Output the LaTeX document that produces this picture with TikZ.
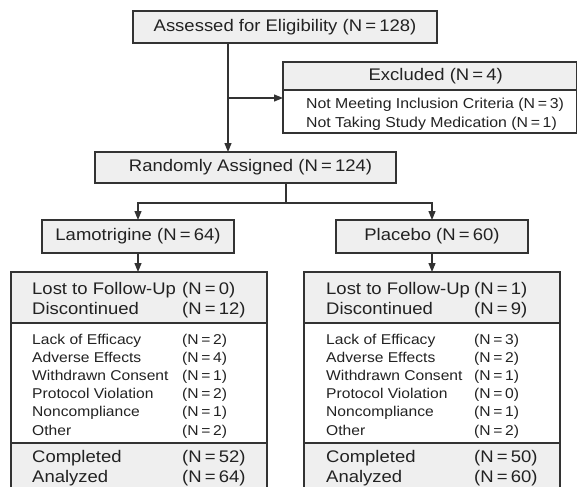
\documentclass[tikz,border=0pt]{standalone}
\usepackage{fontspec}
\setmainfont{Liberation Sans}[FakeStretch=1.1]
\usetikzlibrary{arrows.meta}
\definecolor{linec}{HTML}{333333}
\definecolor{boxfill}{HTML}{EFEFEF}
\definecolor{textc}{HTML}{222222}
\newcommand{\Nn}[1]{(N\hspace{0.19em}=\hspace{0.19em}#1)}
\newcommand{\bigf}{\fontsize{16.8}{20}\selectfont}
\newcommand{\smallf}{\fontsize{14.2}{18}\selectfont}
\newcommand{\exf}{\fontsize{14.4}{19}\selectfont}
\begin{document}
\begin{tikzpicture}[x=1pt,y=-1pt,
  box/.style={draw=linec, line width=1.2pt, fill=boxfill, inner sep=0pt, outer sep=0pt, text=textc, font=\bigf},
  whitebox/.style={box, fill=white},
  conn/.style={draw=linec, line width=1.2pt},
  arr/.style={conn, -{Triangle[length=9pt,width=7pt]}},
  lbl/.style={anchor=base west, inner sep=0pt, text=textc},
  biglbl/.style={lbl, font=\bigf},
  smlbl/.style={lbl, font=\smallf},
  exlbl/.style={lbl, font=\exf}]
\useasboundingbox (0,0) rectangle (578,487);
\clip (0,0) rectangle (578,487);

% top
\node[box, minimum width=304pt, minimum height=32pt] (assess) at (285,27) {Assessed for Eligibility \Nn{128}};

% excluded
\node[box, minimum width=293.5pt, minimum height=28pt] (exhead) at (429.75,76) {\hspace*{12pt}Excluded \Nn{4}};
\node[whitebox, minimum width=293.5pt, minimum height=43pt] (exlist) at (429.75,111.5) {};
\node[exlbl] (ex1) at (306,108) {Not Meeting Inclusion Criteria \Nn{3}};
\node[exlbl] (ex2) at (306,127) {Not Taking Study Medication \Nn{1}};

% randomly
\node[box, minimum width=301pt, minimum height=31pt] (rand) at (245.5,167.5) {\hspace*{10pt}Randomly Assigned \Nn{124}};

% arms
\node[box, minimum width=192pt, minimum height=33pt] (lamo) at (138,236.5) {Lamotrigine \Nn{64}};
\node[box, minimum width=192pt, minimum height=33pt] (plac) at (432,236.5) {Placebo \Nn{60}};

% outcome left
\node[box, minimum width=256pt, minimum height=51pt] (outLh) at (139,297.5) {};
\node[whitebox, minimum width=256pt, minimum height=120pt] (outLl) at (139,383) {};
\node[box, minimum width=256pt, minimum height=64pt] (outLb) at (139,475) {};
% outcome right
\node[box, minimum width=256pt, minimum height=51pt] (outRh) at (432,297.5) {};
\node[whitebox, minimum width=256pt, minimum height=120pt] (outRl) at (432,383) {};
\node[box, minimum width=256pt, minimum height=64pt] (outRb) at (432,475) {};

% left texts
\node[biglbl] (l1) at (32,294) {Lost to Follow-Up};
\node[biglbl] (l1v) at (182,294) {\Nn{0}};
\node[biglbl] (l2) at (32,314) {Discontinued};
\node[biglbl] (l2v) at (182,314) {\Nn{12}};
\node[smlbl] (l3) at (32,344) {Lack of Efficacy};
\node[smlbl] (l3v) at (182,344) {\Nn{2}};
\node[smlbl] (l4) at (32,362.2) {Adverse Effects};
\node[smlbl] (l4v) at (182,362.2) {\Nn{4}};
\node[smlbl] (l5) at (32,380.4) {Withdrawn Consent};
\node[smlbl] (l5v) at (182,380.4) {\Nn{1}};
\node[smlbl] (l6) at (32,398.6) {Protocol Violation};
\node[smlbl] (l6v) at (182,398.6) {\Nn{2}};
\node[smlbl] (l7) at (32,416.8) {Noncompliance};
\node[smlbl] (l7v) at (182,416.8) {\Nn{1}};
\node[smlbl] (l8) at (32,435) {Other};
\node[smlbl] (l8v) at (182,435) {\Nn{2}};
\node[biglbl] (l9) at (32,462) {Completed};
\node[biglbl] (l9v) at (182,462) {\Nn{52}};
\node[biglbl] (l10) at (32,482) {Analyzed};
\node[biglbl] (l10v) at (182,482) {\Nn{64}};

% right texts
\node[biglbl] (r1) at (326,294) {Lost to Follow-Up};
\node[biglbl] (r1v) at (474,294) {\Nn{1}};
\node[biglbl] (r2) at (326,314) {Discontinued};
\node[biglbl] (r2v) at (474,314) {\Nn{9}};
\node[smlbl] (r3) at (326,344) {Lack of Efficacy};
\node[smlbl] (r3v) at (474,344) {\Nn{3}};
\node[smlbl] (r4) at (326,362.2) {Adverse Effects};
\node[smlbl] (r4v) at (474,362.2) {\Nn{2}};
\node[smlbl] (r5) at (326,380.4) {Withdrawn Consent};
\node[smlbl] (r5v) at (474,380.4) {\Nn{1}};
\node[smlbl] (r6) at (326,398.6) {Protocol Violation};
\node[smlbl] (r6v) at (474,398.6) {\Nn{0}};
\node[smlbl] (r7) at (326,416.8) {Noncompliance};
\node[smlbl] (r7v) at (474,416.8) {\Nn{1}};
\node[smlbl] (r8) at (326,435) {Other};
\node[smlbl] (r8v) at (474,435) {\Nn{2}};
\node[biglbl] (r9) at (326,462) {Completed};
\node[biglbl] (r9v) at (474,462) {\Nn{50}};
\node[biglbl] (r10) at (326,482) {Analyzed};
\node[biglbl] (r10v) at (474,482) {\Nn{60}};

% connectors
\coordinate (exbranch) at (228,98);
\coordinate (split) at (286,203);
\draw[conn] (assess.south -| exbranch) -- (exbranch);
\draw[arr] (exbranch) -- (rand.north -| exbranch);
\draw[arr] (exbranch) -- (exbranch -| exlist.west);
\draw[conn] (rand.south -| split) -- (split);
\draw[arr] (split) -| (lamo.north);
\draw[arr] (split) -| (plac.north);
\draw[arr] (lamo.south) -- (outLh.north -| lamo.south);
\draw[arr] (plac.south) -- (outRh.north -| plac.south);
\end{tikzpicture}
\end{document}
